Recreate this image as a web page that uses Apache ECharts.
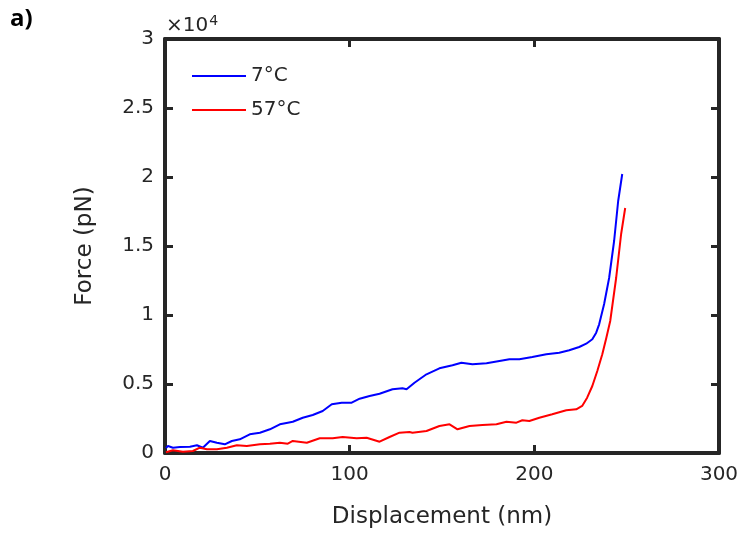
<!DOCTYPE html>
<html>
<head>
<meta charset="utf-8">
<script src="https://cdn.jsdelivr.net/npm/echarts@6/dist/echarts.min.js"></script>
<style>
  html, body { margin: 0; padding: 0; background: #fff; }
  #chart { width: 746px; height: 537px; }
</style>
</head>
<body>
<div id="chart"></div>
<script>
// displacement (nm) / force (pN)
const cold7 = [
  [0.5, 350], [1.6, 507], [4.3, 384], [8.1, 435], [13.5, 457], [17.3, 558], [20.5, 384],
  [24.3, 870], [28.1, 746], [32.4, 630], [36.2, 870], [40.5, 993], [45.9, 1355],
  [51.4, 1471], [56.8, 1717], [62.2, 2080], [66.5, 2196], [69.2, 2268], [74.6, 2558],
  [80, 2754], [85.4, 3043], [90.3, 3529], [95.7, 3645], [101.1, 3645], [105.4, 3935],
  [110.8, 4130], [116.2, 4297], [123.2, 4616], [128.6, 4688], [130.8, 4616], [135.1, 5094],
  [141.6, 5703], [148.6, 6138], [155.7, 6355], [160.5, 6543], [166.5, 6428], [174.1, 6500],
  [181.1, 6667], [186.5, 6790], [191.9, 6790], [198.9, 6957], [206.5, 7152], [213.5, 7268],
  [218.9, 7442], [224.3, 7681], [228.1, 7920], [231.4, 8239], [233.5, 8717], [235.1, 9326],
  [237.8, 10797], [240.5, 12681], [243.2, 15362], [245.4, 18261], [247.6, 20217]
];
const hot57 = [
  [0.5, 60], [1.1, 72], [4.3, 196], [9.7, 94], [15.1, 145], [18.9, 384], [22.7, 268],
  [28.1, 268], [33.5, 384], [38.9, 558], [44.3, 507], [51.4, 630], [56.8, 674],
  [62.2, 746], [66.5, 674], [69.2, 870], [76.8, 746], [83.8, 1065], [90.8, 1065],
  [96.2, 1159], [103.8, 1065], [109.2, 1109], [116.2, 819], [121.6, 1159], [127, 1471],
  [132.4, 1522], [134, 1471], [141.6, 1594], [148.6, 1957], [154.1, 2080], [158.4, 1717],
  [164.9, 1957], [171.9, 2029], [179.5, 2080], [184.9, 2268], [190.3, 2196], [193.5, 2370],
  [197.3, 2319], [202.7, 2558], [209.7, 2804], [217.3, 3094], [222.7, 3167], [225.9, 3406],
  [228.6, 4007], [231.4, 4855], [234.1, 5942], [236.8, 7152], [239, 8355], [241.1, 9565],
  [244.3, 12681], [247, 15870], [249.2, 17754]
];
const seriesNames = ['7°C', '57°C'];
const seriesColors = ['#0000ff', '#ff0000'];
const xTicks = [0, 100, 200, 300];
const yTicks = [0, 5000, 10000, 15000, 20000, 25000, 30000];

const ink = '#262626';
const font = 'DejaVu Sans';

const chart = echarts.init(document.getElementById('chart'));

function frameAxis() {
  return {
    axisLine: { show: true, onZero: false, lineStyle: { color: ink, width: 4 } },
    axisTick: { show: true, inside: true, length: 8, lineStyle: { color: ink, width: 3 } },
    splitLine: { show: false }
  };
}

chart.setOption({
  backgroundColor: '#fff',
  animation: false,
  grid: { left: 165, right: 27, top: 39, bottom: 84 },
  legend: {
    orient: 'vertical',
    left: 192,
    top: 66,
    padding: 0,
    itemWidth: 54,
    itemHeight: 2,
    itemGap: 14,
    icon: 'rect',
    textStyle: { color: ink, fontSize: 20, fontFamily: font, lineHeight: 20 },
    data: seriesNames
  },
  xAxis: [
    Object.assign(frameAxis(), {
      type: 'value', position: 'bottom', min: xTicks[0], max: xTicks[xTicks.length - 1], interval: 100,
      name: 'Displacement (nm)', nameLocation: 'middle', nameGap: 53,
      nameTextStyle: { color: ink, fontSize: 23, fontFamily: font },
      axisLabel: { color: ink, fontSize: 20, fontFamily: font, margin: 12 }
    }),
    Object.assign(frameAxis(), {
      type: 'value', position: 'top', min: xTicks[0], max: xTicks[xTicks.length - 1], interval: 100,
      axisLabel: { show: false }
    })
  ],
  yAxis: [
    Object.assign(frameAxis(), {
      type: 'value', position: 'left', min: yTicks[0], max: yTicks[yTicks.length - 1], interval: 5000,
      name: 'Force (pN)', nameLocation: 'middle', nameGap: 68, nameRotate: 90,
      nameTextStyle: { color: ink, fontSize: 23, fontFamily: font },
      axisLabel: { color: ink, fontSize: 20, fontFamily: font, margin: 11,
        formatter: v => String(v / 10000) }
    }),
    Object.assign(frameAxis(), {
      type: 'value', position: 'right', min: yTicks[0], max: yTicks[yTicks.length - 1], interval: 5000,
      axisLabel: { show: false }
    })
  ],
  series: [
    { name: seriesNames[0], type: 'line', data: cold7, showSymbol: false, smooth: false,
      color: seriesColors[0], lineStyle: { width: 2, color: seriesColors[0] }, z: 3 },
    { name: seriesNames[1], type: 'line', data: hot57, showSymbol: false, smooth: false,
      color: seriesColors[1], lineStyle: { width: 2, color: seriesColors[1] }, z: 3 }
  ],
  graphic: [
    { type: 'text', left: 10, top: 7,
      style: { text: 'a)', fill: '#000', font: 'bold 24px "Open Sans"' } },
    { type: 'text', left: 166, top: 14,
      style: { text: '×10{s|4}', fill: ink, font: '20px "DejaVu Sans"',
        rich: { s: { fontSize: 14, fontFamily: font, fill: ink, verticalAlign: 'top', padding: [0, 0, 10, 1] } } } }
  ]
});
</script>
</body>
</html>
